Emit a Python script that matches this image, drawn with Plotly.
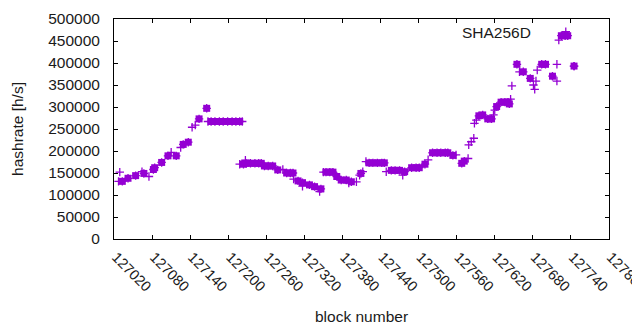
import plotly.graph_objects as go

# isolated "+" samples (block number, hashrate)
block_plus = [127027, 127029, 127064, 127075, 127110, 127125, 127143, 127148, 127168, 127222,
              127218, 127227, 127286, 127303, 127317, 127344, 127350, 127390, 127402, 127407,
              127412, 127417, 127449, 127475, 127515, 127559, 127578, 127579, 127583, 127587,
              127588, 127591, 127618, 127620, 127645, 127647, 127659, 127681, 127683, 127685,
              127687, 127718, 127718, 127721, 127732, 127745]
rate_plus = [131000, 152000, 153000, 142000, 197000, 208000, 254000, 259000, 267000, 267000,
             170000, 179000, 158000, 136000, 120000, 108000, 152000, 127000, 130000, 145000,
             153000, 176000, 153000, 145000, 180000, 191000, 183000, 214000, 221000, 229000,
             263000, 270000, 282000, 293000, 318000, 348000, 380000, 350000, 340000, 359000,
             384000, 397000, 359000, 452000, 471000, 393000]

# dense runs of samples (drawn as filled blocks)
block_dense = [127033, 127042, 127054, 127067, 127082, 127084, 127095, 127105, 127118, 127129,
               127137, 127154, 127166, 127173, 127179, 127186, 127192, 127199, 127206, 127212,
               127218, 127224, 127228, 127235, 127242, 127248, 127252, 127257, 127263, 127270,
               127278, 127292, 127298, 127302, 127310, 127317, 127328, 127336, 127346, 127354,
               127360, 127365, 127371, 127378, 127386, 127394, 127409, 127422, 127428, 127435,
               127442, 127446, 127457, 127463, 127470, 127478, 127489, 127496, 127501, 127510,
               127522, 127529, 127535, 127542, 127546, 127554, 127568, 127572, 127595, 127601,
               127609, 127615, 127623, 127630, 127636, 127641, 127643, 127655, 127665, 127676,
               127694, 127700, 127711, 127725, 127731, 127735, 127745]
rate_dense = [131000, 138000, 144000, 149000, 158000, 162000, 174000, 189000, 189000, 215000,
              220000, 273000, 297000, 267000, 267000, 267000, 267000, 267000, 267000, 267000,
              267000, 170000, 172000, 172000, 172000, 172000, 172000, 166000, 166000, 166000,
              157000, 150000, 150000, 150000, 132000, 128000, 123000, 119000, 114000, 152000,
              152000, 152000, 142000, 134000, 134000, 130000, 149000, 173000, 173000, 173000,
              173000, 173000, 156000, 156000, 156000, 153000, 162000, 162000, 162000, 170000,
              196000, 196000, 196000, 196000, 196000, 190000, 172000, 177000, 280000, 282000,
              273000, 273000, 301000, 311000, 311000, 311000, 307000, 397000, 380000, 365000,
              397000, 397000, 370000, 462000, 462000, 462000, 393000]

x_ticks = [127020, 127080, 127140, 127200, 127260, 127320, 127380, 127440, 127500,
           127560, 127620, 127680, 127740, 127800]
y_ticks = [0, 50000, 100000, 150000, 200000, 250000, 300000, 350000, 400000, 450000, 500000]

PURPLE = "#9400d3"
FONT = "Liberation Sans"
TXT = "#1a1a1a"

fig = go.Figure()
fig.add_trace(go.Scatter(
    x=block_dense, y=rate_dense, mode="markers",
    marker=dict(symbol="square", size=7, color=PURPLE, line=dict(width=0)),
    showlegend=False, hoverinfo="skip"))
fig.add_trace(go.Scatter(
    x=block_plus + block_dense, y=rate_plus + rate_dense, mode="markers",
    marker=dict(symbol="cross-thin", size=6, color=PURPLE,
                line=dict(width=1.3, color=PURPLE)),
    showlegend=False))

axis_common = dict(showline=True, linecolor="black", linewidth=1, mirror="allticks",
                   ticks="inside", ticklen=4, tickcolor="black", showgrid=False,
                   zeroline=False, automargin=False)

fig.update_xaxes(range=[127019.9, 127800.1], tickvals=x_ticks, ticktext=[str(v) for v in x_ticks],
                 tickangle=45, ticklabelstandoff=3, ticklabelshift=2,
                 ticklabeloverflow="allow", tickfont=dict(family=FONT, size=14.5, color=TXT),
                 **axis_common)
fig.update_yaxes(range=[0, 500000], tickvals=y_ticks, ticktext=[str(v) for v in y_ticks],
                 ticklabelstandoff=10, tickfont=dict(family=FONT, size=15.5, color=TXT),
                 **axis_common)

fig.add_annotation(text="hashrate [h/s]", xref="paper", yref="paper", x=-0.196, y=0.5,
                   textangle=-90, showarrow=False, xanchor="center", yanchor="middle",
                   font=dict(family=FONT, size=15.5, color=TXT))
fig.add_annotation(text="block number", xref="paper", yref="paper", x=0.5, y=-0.35,
                   showarrow=False, xanchor="center", yanchor="middle",
                   font=dict(family=FONT, size=15.5, color=TXT))
fig.add_annotation(text="SHA256D", xref="paper", yref="paper", x=(533 - 114) / 495,
                   y=(239 - 32) / 220, showarrow=False, xanchor="right", yanchor="middle",
                   font=dict(family=FONT, size=15.5, color=TXT))

# the page body has an 8px default margin; size the figure so the plot area
# lands where it sits in the 640x330 reference
fig.update_layout(width=632, height=322, margin=dict(l=106, r=31, t=11, b=91),
                  paper_bgcolor="white", plot_bgcolor="white")

fig.write_html("out.html")
